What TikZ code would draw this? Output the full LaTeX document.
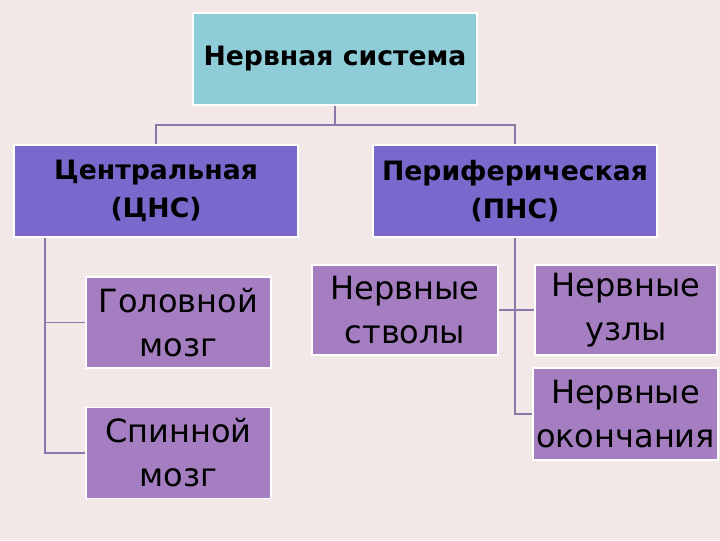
\documentclass[tikz,border=0pt]{standalone}
\usepackage{fontspec}
\setmainfont{DejaVu Sans}
\begin{document}
\begin{tikzpicture}[x=0.75pt,y=-0.75pt,
  hdr/.style={draw=white,line width=1pt,fill=#1,font=\bfseries\fontsize{20}{29}\selectfont,align=center,inner sep=0pt},
  leaf/.style={draw=white,line width=1pt,fill=leafc,font=\fontsize{24}{33}\selectfont,align=center,inner sep=0pt},
  conn/.style={draw=linec,line width=1.2pt}]
\definecolor{bgc}{HTML}{F2E8E8}
\definecolor{topc}{HTML}{8ECCD8}
\definecolor{midc}{HTML}{7B68CC}
\definecolor{leafc}{HTML}{A47EC0}
\definecolor{linec}{HTML}{8C78A8}
\fill[bgc] (0,0) rectangle (720,540);
\useasboundingbox (0,0) rectangle (720,540);
\node[hdr=topc,minimum width=284*0.75pt,minimum height=92*0.75pt] (top) at (335,59) {Нервная система};
\node[hdr=midc,minimum width=284*0.75pt,minimum height=92*0.75pt] (cns) at (156,191) {Центральная\\(ЦНС)};
\node[hdr=midc,minimum width=284*0.75pt,minimum height=92*0.75pt] (pns) at (515,191) {Периферическая\\(ПНС)};
\node[leaf,minimum width=185*0.75pt,minimum height=91*0.75pt] (gm) at (178.5,322.5) {Головной\\мозг};
\node[leaf,minimum width=185*0.75pt,minimum height=91*0.75pt] (sm) at (178.5,453) {Спинной\\мозг};
\node[leaf,minimum width=186*0.75pt,minimum height=90*0.75pt] (ns) at (405,310) {Нервные\\стволы};
\node[leaf,minimum width=182*0.75pt,minimum height=90*0.75pt] (nu) at (626,310) {Нервные\\узлы};
\node[leaf,minimum width=185*0.75pt,minimum height=92*0.75pt] (no) at (625.5,414) {Нервные\\окончания};
\coordinate (j) at (335,125);
\draw[conn] (top.south) -- (j);
\draw[conn] (cns.north) |- (j) -| (pns.north);
\draw[conn] (cns.south -| 45,0) |- (gm.west);
\draw[conn] (cns.south -| 45,0) |- (sm.west);
\draw[conn] (pns.south) |- (no.west);
\draw[conn] (ns.east) -- (nu.west);
\end{tikzpicture}
\end{document}
